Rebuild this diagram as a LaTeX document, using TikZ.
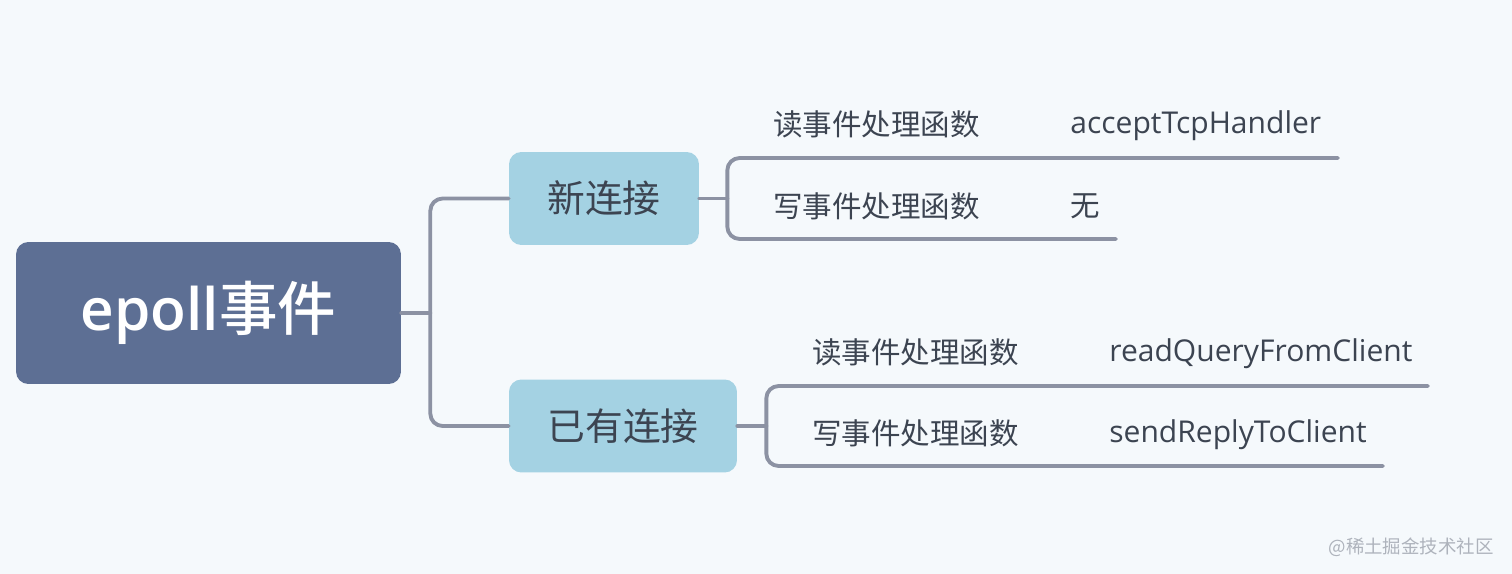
\documentclass[tikz,border=0pt]{standalone}
\usepackage{fontspec}
\setmainfont{Open Sans}
\newfontfamily\cjk{Noto Sans CJK SC}
\newfontfamily\cjkmed{Noto Sans CJK SC Medium}
\IfFontExistsTF{Open Sans Semibold}{\newfontfamily\latinsemi{Open Sans Semibold}}{%
  \IfFontExistsTF{Open Sans SemiBold}{\newfontfamily\latinsemi{Open Sans SemiBold}}{%
    \newfontfamily\latinsemi{Open Sans}[FakeBold=1.6]}}
\definecolor{bgblue}{HTML}{F5F9FC}
\definecolor{rootblue}{HTML}{5D6F94}
\definecolor{subblue}{HTML}{A4D2E3}
\definecolor{linegray}{HTML}{8C92A3}
\definecolor{txtgray}{HTML}{3C4451}
\definecolor{markgray}{HTML}{AEB3BC}
\tikzset{
  rootbox/.style={fill=rootblue,rounded corners=7pt,text=white,inner sep=0pt,
    minimum width=7.7cm,minimum height=2.84cm,font=\latinsemi\fontsize{33.3}{36}\selectfont},
  subbox/.style={fill=subblue,rounded corners=7pt,text=txtgray,inner sep=0pt,
    minimum height=1.86cm,font=\cjk\fontsize{21.5}{24}\selectfont},
  branch/.style={draw=linegray,line width=2.2pt,rounded corners=7pt},
  cnleaf/.style={anchor=west,inner sep=0pt,text=txtgray,font=\cjk\fontsize{16.8}{20}\selectfont},
  fnleaf/.style={anchor=west,inner sep=0pt,text=txtgray,font=\fontsize{17.1}{20}\selectfont}
}
\begin{document}
\begin{tikzpicture}[x=0.02cm,y=-0.02cm,line join=round,line cap=round]
	\fill[bgblue] (0,0) rectangle (1512,574);
	\useasboundingbox (0,0) rectangle (1512,574);
	% boxes
	\node[rootbox] (ep) at (208.5,313) {epoll{\cjkmed 事件}};
	\node[subbox,minimum width=3.8cm] (nc) at (604,198.5) {新连接};
	\node[subbox,minimum width=4.56cm] (yc) at (623,426) {已有连接};
	% main fork
	\draw[branch] (ep.east) -- ++(29,0) coordinate (fork);
	\draw[branch] (nc.west) -| (fork) |- (yc.west);
	% new connection
	\draw[branch] (nc.east) -- ++(28,0) coordinate (nfork);
	\path (1338,158)coordinate(nr) (1116,239)coordinate(nw);
	\draw[branch] (nr) -| (nfork) |- (nw);
	\node[cnleaf] (nrl) at (773,124) {读事件处理函数};
	\node[fnleaf] (nrf) at (1070,126) {acceptTcpHandler};
	\node[cnleaf] (nwl) at (773,206) {写事件处理函数};
	\node[cnleaf] (nwf) at (1070,206) {无};
	% existing connection
	\draw[branch] (yc.east) -- ++(29,0) coordinate (yfork);
	\path (1428,386)coordinate(yr) (1383,466)coordinate(yw);
	\draw[branch] (yr) -| (yfork) |- (yw);
	\node[cnleaf] (yrl) at (812,352) {读事件处理函数};
	\node[fnleaf] (yrf) at (1109,354) {readQueryFromClient};
	\node[cnleaf] (ywl) at (812,433) {写事件处理函数};
	\node[fnleaf] (ywf) at (1109,435) {sendReplyToClient};
	% watermark
	\node[anchor=east,inner sep=0pt,text=markgray,font=\cjk\fontsize{10.5}{12}\selectfont] (wm) at (1494,547) {@稀土掘金技术社区};
\end{tikzpicture}
\end{document}
